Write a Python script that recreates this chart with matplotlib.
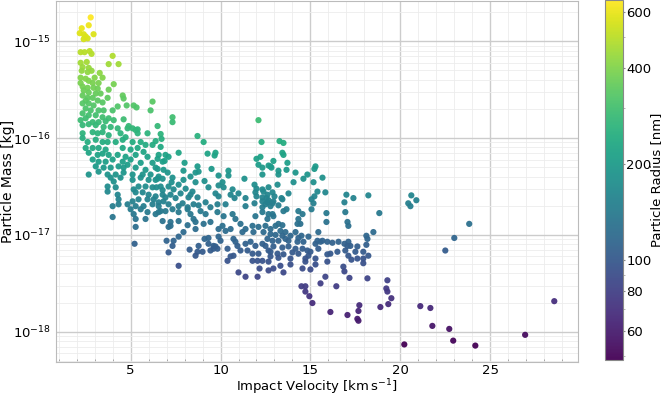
import numpy as np
import matplotlib
matplotlib.use("Agg")
import matplotlib.pyplot as plt
from matplotlib.colors import LogNorm
from matplotlib.ticker import FixedLocator, FixedFormatter, NullFormatter, LogFormatterSciNotation

# Impact velocity [km/s] and particle mass [kg]
velocity = [
    2.78, 2.67, 2.28, 2.17, 2.39, 2.94, 2.39, 2.61, 2.50,
    2.22, 2.44, 2.72, 2.83, 4.00, 3.78, 4.33, 2.22, 2.56, 2.33, 2.67, 2.28, 2.61, 2.83,
    3.28, 3.00, 3.44, 2.22, 2.50, 2.67, 2.22, 2.89, 3.22, 4.06, 2.33, 2.61, 2.94, 3.17,
    3.78, 2.39, 2.67, 3.06, 3.33, 2.33, 2.61, 2.89, 3.72, 4.56, 4.61, 2.50, 3.17, 3.44,
    2.33, 2.67, 2.94, 4.28, 4.78, 5.17, 5.33, 6.22, 6.11, 2.50, 2.78, 3.22, 3.50, 4.00,
    2.33, 2.67, 3.06, 3.44, 3.78, 2.50, 4.61, 2.22, 2.89, 3.22, 3.61, 4.06, 2.33, 2.67,
    3.06, 3.50, 3.89, 4.28, 4.83, 4.89, 5.11, 6.50, 5.28, 5.39, 5.94, 2.33, 2.89, 3.17,
    3.44, 4.44, 5.39, 3.78, 4.72, 2.33, 7.33, 7.33, 6.67, 8.72, 12.11,
    6.72, 6.39, 3.06, 4.56, 2.61, 3.44, 3.72, 4.17, 5.11, 5.56, 9.06, 12.28, 13.28, 13.50,
    5.83, 6.22, 6.67, 2.50, 2.89, 3.22, 4.56, 5.39, 3.61, 5.00, 5.72, 2.67, 13.44, 13.50,
    7.67, 9.28, 9.72, 9.67, 3.17, 3.44, 3.78, 4.28, 5.28, 6.94, 6.56, 4.72, 5.94, 7.11,
    12.22, 12.00, 6.50, 2.89, 4.00, 5.00, 6.89, 12.94, 3.22, 3.61, 4.56, 6.78, 5.56, 6.22,
    8.00, 13.72, 4.83, 12.11, 3.06, 4.33, 8.72, 12.78, 15.28, 15.22, 12.67, 3.50, 3.89,
    4.61, 5.28, 6.39, 12.33, 12.83, 5.83, 6.83, 6.50, 9.50, 13.67, 7.94, 10.44, 13.22,
    8.78, 3.22, 7.06, 8.61, 4.61, 14.17, 2.67, 3.72, 4.17, 5.11, 5.67, 6.11, 12.33, 13.22,
    14.83, 10.44, 9.89, 6.56, 8.33, 3.89, 4.44, 5.56, 7.33, 15.67, 6.50, 6.78, 11.33,
    14.61, 5.11, 6.00, 6.39, 7.94, 9.11, 4.06, 7.28, 8.61, 10.11, 14.06, 15.17, 7.67,
    11.89, 13.17, 9.89, 3.72, 5.44, 5.83, 6.67, 7.11, 4.17, 6.22, 6.44, 9.33, 10.17,
    12.67, 8.06, 12.00, 5.17, 7.39, 10.67, 12.33, 6.78, 3.72, 8.44, 12.39, 15.39, 5.28,
    5.67, 11.94, 12.89, 15.83, 7.78, 9.72, 11.00, 13.78, 4.28, 6.00, 6.78, 7.22, 8.33,
    10.56, 12.61, 17.00, 18.22, 20.61, 6.39, 9.89, 12.00, 13.00, 15.22, 6.94, 8.22, 8.72,
    12.33, 7.50, 10.78, 11.39, 12.56, 13.39, 17.39, 4.33, 5.44, 5.94, 6.28, 13.44, 15.06,
    20.89, 12.67, 5.11, 6.83, 12.33, 12.94, 6.56, 9.17, 12.61, 16.89, 7.89, 11.89, 12.89,
    15.17, 20.44, 4.33, 4.83, 6.22, 7.11, 8.50, 9.83, 10.28, 12.50, 8.78, 13.22, 4.00,
    5.28, 5.72, 6.56, 7.67, 11.39, 12.78, 20.56, 8.17, 9.44, 12.33, 5.56, 5.00, 7.33,
    8.17, 13.67, 15.06, 6.67, 6.94, 8.89, 13.50, 14.33, 5.94, 6.56, 7.67, 9.83, 12.33,
    16.94, 15.89, 18.83, 5.17, 6.39, 8.33, 9.17, 10.67, 12.67, 12.89, 14.56, 10.17, 11.94,
    12.94, 4.00, 5.28, 5.83, 8.50, 10.83, 12.61, 14.33, 6.78, 7.67, 7.22, 8.61, 9.44,
    15.89, 17.06, 8.17, 9.06, 11.11, 13.22, 14.28, 14.44, 23.83, 10.11, 11.78, 12.50,
    7.22, 13.06, 13.44, 17.11, 7.11, 5.28, 12.11, 8.61, 9.89, 10.56, 11.39, 12.78, 10.28,
    13.33, 7.94, 11.22, 11.83, 12.39, 13.61, 14.17, 15.44, 18.50, 12.78, 13.06,
    13.44, 13.89, 14.50, 18.11, 14.89, 7.67, 9.89, 14.33, 9.33, 23.00, 9.11, 10.72, 12.61,
    13.61, 18.17, 7.00, 7.39, 10.00, 12.89, 13.22, 13.78, 15.39, 15.67, 10.83, 11.67,
    14.28, 14.61, 15.56, 15.94, 16.56, 17.11, 16.22, 5.22, 9.33, 11.39, 12.33, 15.28,
    16.89, 18.11, 7.33, 8.78, 9.61, 10.94, 11.94, 12.50, 17.06, 17.22, 9.72, 12.94, 13.78,
    17.61, 13.44, 8.28, 9.61, 9.83, 10.39, 14.17, 14.56, 15.44, 9.44, 11.11, 11.50, 12.67,
    14.83, 16.94, 22.50, 8.72, 9.00, 12.78, 15.00, 16.50, 17.50, 17.94, 7.11, 14.00, 11.78,
    12.11, 13.17, 14.33, 16.11, 13.50, 15.94, 8.61, 10.72, 14.89, 17.11, 18.22, 10.56,
    12.78, 13.22, 13.89, 14.72, 15.28, 17.61, 17.94, 17.28, 10.39, 11.78, 12.06, 12.33,
    12.67, 14.72, 15.94, 17.94, 13.89, 15.28, 7.67, 13.33, 16.83, 14.56, 12.17, 12.94,
    15.00, 12.67, 11.00, 13.50, 16.89, 11.39, 12.06, 15.83, 17.17, 18.17, 19.28, 15.56,
    14.72, 14.50, 16.44, 19.22, 19.28, 14.72, 14.94, 19.50, 28.56, 15.11, 19.33, 17.72,
    21.11, 18.89, 21.67, 17.67, 16.11, 17.06, 17.61, 17.67, 21.78, 22.72, 26.94, 22.94,
    20.22, 24.17,
]

mass = [
    1.76e-15, 1.46e-15, 1.36e-15, 1.21e-15, 1.18e-15, 1.18e-15, 1.05e-15, 1.07e-15, 1.12e-15,
    7.7e-16, 7.7e-16, 7.9e-16, 7.4e-16, 7.05e-16, 5.8e-16, 5.8e-16, 5.98e-16, 6.1e-16, 5.4e-16, 5.3e-16, 4.95e-16, 4.8e-16, 4.95e-16,
    4.7e-16, 4.2e-16, 4.2e-16, 4.2e-16, 4.1e-16, 3.9e-16, 3.7e-16, 3.7e-16, 3.7e-16, 3.6e-16, 3.4e-16, 3.3e-16, 3.3e-16, 3.24e-16,
    3.16e-16, 3.1e-16, 2.95e-16, 2.88e-16, 2.88e-16, 2.75e-16, 2.6e-16, 2.6e-16, 2.6e-16, 2.75e-16, 2.56e-16, 2.44e-16, 2.44e-16, 2.33e-16,
    2.28e-16, 2.28e-16, 2.17e-16, 2.12e-16, 2.17e-16, 2.17e-16, 2.07e-16, 2.38e-16, 1.93e-16, 2.02e-16, 1.93e-16, 1.93e-16, 1.93e-16, 1.93e-16,
    1.8e-16, 1.72e-16, 1.72e-16, 1.64e-16, 1.6e-16, 1.6e-16, 1.56e-16, 1.53e-16, 1.46e-16, 1.46e-16, 1.49e-16, 1.53e-16, 1.36e-16, 1.39e-16,
    1.36e-16, 1.3e-16, 1.3e-16, 1.26e-16, 1.26e-16, 1.33e-16, 1.26e-16, 1.33e-16, 1.21e-16, 1.23e-16, 1.12e-16, 1.12e-16, 1.15e-16, 1.12e-16,
    1.15e-16, 1.12e-16, 1.12e-16, 1.07e-16, 1.02e-16, 1.0e-16, 1.64e-16, 1.46e-16, 1.1e-16, 1.05e-16, 1.53e-16,
    9.8e-17, 9.3e-17, 9.6e-17, 9.6e-17, 9.1e-17, 9.1e-17, 9.1e-17, 9.1e-17, 9.1e-17, 9.1e-17, 9.1e-17, 9.1e-17, 9.3e-17, 8.9e-17,
    8.5e-17, 8.5e-17, 8.1e-17, 7.9e-17, 7.9e-17, 7.9e-17, 7.9e-17, 7.9e-17, 7.6e-17, 7.6e-17, 7.2e-17, 7.05e-17, 7.05e-17, 6.7e-17,
    7.05e-17, 6.9e-17, 7.05e-17, 6.6e-17, 6.7e-17, 6.9e-17, 6.7e-17, 6.7e-17, 6.7e-17, 6.7e-17, 6.7e-17, 6.4e-17, 6.4e-17, 6.4e-17,
    6.4e-17, 6.1e-17, 6.1e-17, 6.0e-17, 6.0e-17, 6.0e-17, 5.8e-17, 5.8e-17, 5.7e-17, 5.7e-17, 5.7e-17, 5.7e-17, 5.55e-17, 5.55e-17,
    5.55e-17, 5.55e-17, 5.3e-17, 5.3e-17, 5.1e-17, 5.1e-17, 5.1e-17, 5.1e-17, 5.1e-17, 4.8e-17, 5.2e-17, 4.95e-17, 4.95e-17,
    4.95e-17, 4.95e-17, 4.95e-17, 4.95e-17, 4.95e-17, 4.7e-17, 4.7e-17, 4.8e-17, 4.8e-17, 4.7e-17, 4.6e-17, 4.6e-17, 4.6e-17,
    4.5e-17, 4.5e-17, 4.4e-17, 4.4e-17, 4.4e-17, 4.4e-17, 4.2e-17, 4.2e-17, 4.2e-17, 4.2e-17, 4.2e-17, 4.2e-17, 4.2e-17, 4.2e-17,
    4.2e-17, 4.1e-17, 4.1e-17, 4.0e-17, 4.0e-17, 3.9e-17, 3.9e-17, 3.9e-17, 3.9e-17, 3.9e-17, 3.8e-17, 3.8e-17, 3.8e-17,
    3.8e-17, 3.7e-17, 3.7e-17, 3.7e-17, 3.7e-17, 3.6e-17, 3.56e-17, 3.5e-17, 3.5e-17, 3.5e-17, 3.5e-17, 3.5e-17, 3.3e-17,
    3.3e-17, 3.3e-17, 3.24e-17, 3.16e-17, 3.16e-17, 3.16e-17, 3.16e-17, 3.16e-17, 3.1e-17, 3.1e-17, 3.1e-17, 3.1e-17, 3.1e-17,
    3.1e-17, 3.0e-17, 3.0e-17, 2.95e-17, 2.95e-17, 2.95e-17, 2.95e-17, 2.9e-17, 2.8e-17, 2.8e-17, 2.8e-17, 2.8e-17, 2.75e-17,
    2.75e-17, 2.75e-17, 2.75e-17, 2.75e-17, 2.68e-17, 2.68e-17, 2.68e-17, 2.68e-17, 2.6e-17, 2.6e-17, 2.6e-17, 2.6e-17, 2.6e-17,
    2.6e-17, 2.6e-17, 2.6e-17, 2.56e-17, 2.56e-17, 2.5e-17, 2.5e-17, 2.5e-17, 2.5e-17, 2.5e-17, 2.44e-17, 2.44e-17, 2.44e-17,
    2.44e-17, 2.4e-17, 2.4e-17, 2.4e-17, 2.4e-17, 2.4e-17, 2.4e-17, 2.33e-17, 2.33e-17, 2.33e-17, 2.33e-17, 2.33e-17, 2.33e-17,
    2.28e-17, 2.28e-17, 2.22e-17, 2.22e-17, 2.22e-17, 2.22e-17, 2.17e-17, 2.17e-17, 2.17e-17, 2.17e-17, 2.12e-17, 2.12e-17, 2.12e-17,
    2.12e-17, 2.12e-17, 2.07e-17, 2.07e-17, 2.07e-17, 2.07e-17, 2.07e-17, 2.07e-17, 2.07e-17, 2.07e-17, 2.02e-17, 2.02e-17, 1.98e-17,
    1.98e-17, 1.98e-17, 1.98e-17, 1.98e-17, 1.98e-17, 1.98e-17, 1.98e-17, 1.93e-17, 1.93e-17, 1.93e-17, 1.84e-17, 1.84e-17, 1.84e-17,
    1.84e-17, 1.84e-17, 1.84e-17, 1.76e-17, 1.76e-17, 1.76e-17, 1.76e-17, 1.76e-17, 1.72e-17, 1.72e-17, 1.72e-17, 1.72e-17, 1.72e-17,
    1.72e-17, 1.68e-17, 1.68e-17, 1.64e-17, 1.64e-17, 1.64e-17, 1.64e-17, 1.64e-17, 1.64e-17, 1.64e-17, 1.64e-17, 1.56e-17, 1.56e-17,
    1.56e-17, 1.53e-17, 1.46e-17, 1.46e-17, 1.46e-17, 1.46e-17, 1.46e-17, 1.46e-17, 1.39e-17, 1.39e-17, 1.36e-17, 1.36e-17, 1.36e-17,
    1.36e-17, 1.36e-17, 1.26e-17, 1.3e-17, 1.3e-17, 1.3e-17, 1.3e-17, 1.3e-17, 1.3e-17, 1.24e-17, 1.24e-17, 1.24e-17,
    1.24e-17, 1.24e-17, 1.26e-17, 1.24e-17, 1.21e-17, 1.21e-17, 1.21e-17, 1.15e-17, 1.15e-17, 1.15e-17, 1.15e-17, 1.15e-17, 1.1e-17,
    1.1e-17, 1.07e-17, 1.07e-17, 1.07e-17, 1.07e-17, 1.07e-17, 1.07e-17, 1.07e-17, 1.07e-17, 1.02e-17, 1.0e-17,
    9.8e-18, 9.8e-18, 9.8e-18, 9.8e-18, 9.6e-18, 9.6e-18, 9.6e-18, 9.3e-18, 9.3e-18, 9.3e-18, 9.1e-18, 9.1e-18, 9.1e-18,
    9.1e-18, 9.1e-18, 8.7e-18, 8.7e-18, 8.7e-18, 8.7e-18, 8.7e-18, 8.7e-18, 8.7e-18, 8.7e-18, 8.5e-18, 8.5e-18,
    8.5e-18, 8.5e-18, 8.5e-18, 8.5e-18, 8.5e-18, 8.5e-18, 8.3e-18, 8.1e-18, 8.1e-18, 8.1e-18, 8.1e-18, 8.1e-18,
    8.1e-18, 7.9e-18, 7.7e-18, 7.7e-18, 7.7e-18, 7.7e-18, 7.7e-18, 7.7e-18, 7.7e-18, 7.7e-18, 7.6e-18, 7.6e-18, 7.6e-18,
    7.6e-18, 7.4e-18, 7.05e-18, 7.2e-18, 7.2e-18, 7.2e-18, 7.2e-18, 7.2e-18, 7.2e-18, 6.9e-18, 6.9e-18, 6.9e-18, 6.9e-18,
    6.9e-18, 6.9e-18, 6.9e-18, 6.7e-18, 6.7e-18, 6.7e-18, 6.7e-18, 6.7e-18, 6.7e-18, 6.7e-18, 6.6e-18, 6.6e-18, 6.4e-18,
    6.4e-18, 6.4e-18, 6.4e-18, 6.4e-18, 6.3e-18, 6.3e-18, 6.1e-18, 6.1e-18, 6.1e-18, 6.1e-18, 6.1e-18, 6.0e-18,
    6.0e-18, 5.8e-18, 5.7e-18, 5.7e-18, 5.7e-18, 5.7e-18, 5.7e-18, 5.55e-18, 5.4e-18, 5.4e-18, 5.4e-18, 5.4e-18,
    5.3e-18, 5.3e-18, 5.3e-18, 5.1e-18, 4.95e-18, 4.95e-18, 4.8e-18, 4.8e-18, 4.7e-18, 4.5e-18, 4.5e-18, 4.5e-18,
    4.4e-18, 4.3e-18, 4.1e-18, 4.1e-18, 4.2e-18, 3.7e-18, 3.7e-18, 3.7e-18, 3.6e-18, 3.56e-18, 3.4e-18, 3.16e-18,
    2.95e-18, 2.95e-18, 2.95e-18, 2.8e-18, 2.6e-18, 2.6e-18, 2.33e-18, 2.22e-18, 2.07e-18, 1.98e-18, 1.93e-18, 1.88e-18,
    1.84e-18, 1.8e-18, 1.76e-18, 1.64e-18, 1.6e-18, 1.49e-18, 1.36e-18, 1.3e-18, 1.15e-18, 1.07e-18, 9.3e-19, 8.1e-19,
    7.4e-19, 7.2e-19,
]

density = 1500.0  # kg/m^3, converts mass to radius for the colour scale

x_major_ticks = [5, 10, 15, 20, 25]
y_major_ticks = [1e-18, 1e-17, 1e-16, 1e-15]
colorbar_ticks = [60, 80, 100, 200, 400, 600]

v = np.array(velocity)
m = np.array(mass)
n = min(len(v), len(m))
v, m = v[:n], m[:n]
radius_nm = (3.0 * m / (4.0 * np.pi * density)) ** (1.0 / 3.0) * 1e9

fig = plt.figure(figsize=(6.66, 3.98), dpi=100)
ax = fig.add_axes([56 / 666, 36 / 398, 522 / 666, 361 / 398])
cax = fig.add_axes([605 / 666, 38 / 398, 18 / 666, 360 / 398])

sc = ax.scatter(v, m, c=radius_nm, cmap="viridis",
                norm=LogNorm(vmin=radius_nm.min(), vmax=radius_nm.max()),
                s=20, edgecolors="none", alpha=0.95, zorder=3)
ax.set_yscale("log")
x0, x1 = ax.get_xlim()
y0, y1 = ax.get_ylim()
x_minor = [t for t in range(1, 31) if x0 < t < x1 and t % 5 != 0]
y_minor = [k * 10.0 ** e for e in range(-19, -14) for k in range(2, 10)
           if y0 < k * 10.0 ** e < y1]
ax.xaxis.set_major_locator(FixedLocator(x_major_ticks))
ax.xaxis.set_minor_locator(FixedLocator(x_minor))
ax.yaxis.set_major_locator(FixedLocator(y_major_ticks))
ax.yaxis.set_major_formatter(LogFormatterSciNotation())
ax.yaxis.set_minor_locator(FixedLocator(y_minor))
ax.yaxis.set_minor_formatter(NullFormatter())
ax.set_xlim(x0, x1)
ax.set_ylim(y0, y1)

ax.grid(True, which="major", color="#cccccc", linewidth=1.0, zorder=0)
ax.grid(True, which="minor", color="#ececec", linewidth=0.6, zorder=0)
ax.set_axisbelow(True)
for sp in ax.spines.values():
    sp.set_color("#bbbbbb")
ax.tick_params(which="major", length=0, labelsize=9.5, labelcolor="black")
ax.tick_params(axis="x", which="major", pad=1.5)
ax.tick_params(axis="y", which="major", pad=4)
ax.tick_params(axis="x", which="minor", length=2, direction="in", color="#999999")
ax.tick_params(axis="y", which="minor", length=0)
ax.set_xlabel(r"Impact Velocity [km$\,$s$^{-1}$]", fontsize=9.5)
ax.set_ylabel("Particle Mass [kg]", fontsize=10)
ax.xaxis.set_label_coords(0.5, -0.044)
ax.yaxis.set_label_coords(-0.078, 0.5)

cb = fig.colorbar(sc, cax=cax)
cb.ax.yaxis.set_major_locator(FixedLocator(colorbar_ticks))
cb.ax.yaxis.set_major_formatter(FixedFormatter([str(t) for t in colorbar_ticks]))
cb.ax.yaxis.set_minor_formatter(NullFormatter())
cb.ax.tick_params(which="major", labelsize=9.5, length=1.5, pad=0.8, color="#888888")
cb.ax.tick_params(which="minor", length=1.2, color="#aaaaaa")
cb.outline.set_edgecolor("#888888")
cb.outline.set_linewidth(0.8)
cb.set_label("Particle Radius [nm]", fontsize=9.5)
cb.ax.yaxis.set_label_coords(2.52, 0.5)

fig.savefig("out.png", dpi=100)
